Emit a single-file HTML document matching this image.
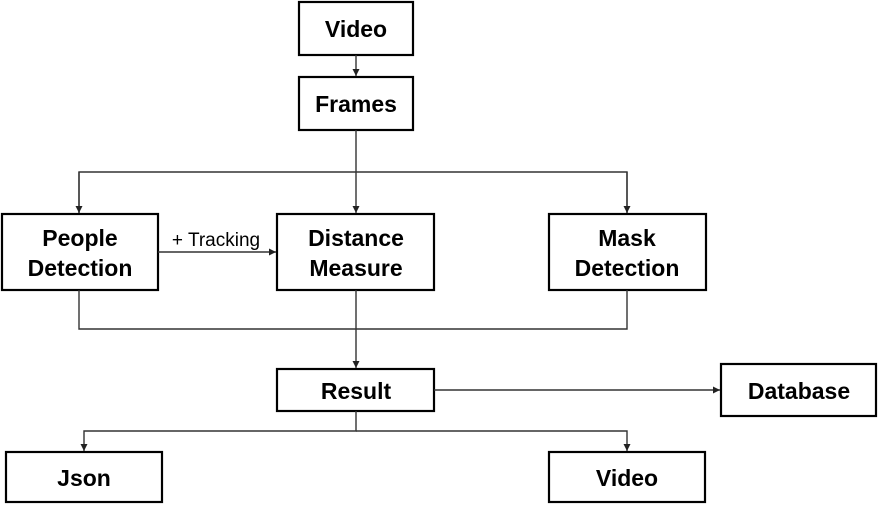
<!DOCTYPE html>
<html><head><meta charset="utf-8"><style>
html,body{margin:0;padding:0;background:#fff;width:878px;height:506px;overflow:hidden}
text{font-family:"Liberation Sans",sans-serif;font-weight:bold;font-size:23px;fill:#000;text-anchor:middle}
</style></head><body>
<svg width="878" height="506" viewBox="0 0 878 506" xmlns="http://www.w3.org/2000/svg">
<defs><marker id="a" markerWidth="8" markerHeight="8" refX="7" refY="4" orient="auto" markerUnits="userSpaceOnUse"><path d="M0,0.5 L7,4 L0,7.5z" fill="#222"/></marker></defs>
<g fill="#fff" stroke="#000" stroke-width="2.2">
<rect x="299" y="2" width="114" height="53"/>
<rect x="299" y="77" width="114" height="53"/>
<rect x="2" y="214" width="156" height="76"/>
<rect x="277" y="214" width="157" height="76"/>
<rect x="549" y="214" width="157" height="76"/>
<rect x="277" y="369" width="157" height="42"/>
<rect x="721" y="364" width="155" height="52"/>
<rect x="6" y="452" width="156" height="50"/>
<rect x="549" y="452" width="156" height="50"/>
</g>
<g fill="none" stroke="#333" stroke-width="1.4">
<path d="M356,55 V76" marker-end="url(#a)"/>
<path d="M356,130 V213" marker-end="url(#a)"/>
<path d="M79,213 V172 H627 V213" />
<path d="M79,172 V213" marker-end="url(#a)"/>
<path d="M627,172 V213" marker-end="url(#a)"/>
<path d="M158,252 H276" marker-end="url(#a)"/>
<path d="M79,290 V329 H627 V290"/>
<path d="M356,290 V368" marker-end="url(#a)"/>
<path d="M434,390 H720" marker-end="url(#a)"/>
<path d="M356,411 V431 H84 V451" marker-end="url(#a)"/>
<path d="M356,431 H627 V451" marker-end="url(#a)"/>
</g>
<text x="356" y="37">Video</text>
<text x="356" y="112">Frames</text>
<text x="80" y="246">People</text>
<text x="80" y="276">Detection</text>
<text x="356" y="246">Distance</text>
<text x="356" y="276">Measure</text>
<text x="627" y="246">Mask</text>
<text x="627" y="276">Detection</text>
<text x="356" y="399">Result</text>
<text x="799" y="399">Database</text>
<text x="84" y="486">Json</text>
<text x="627" y="486">Video</text>
<text x="216" y="246" style="font-weight:normal;font-size:19px">+ Tracking</text>
</svg>
</body></html>
